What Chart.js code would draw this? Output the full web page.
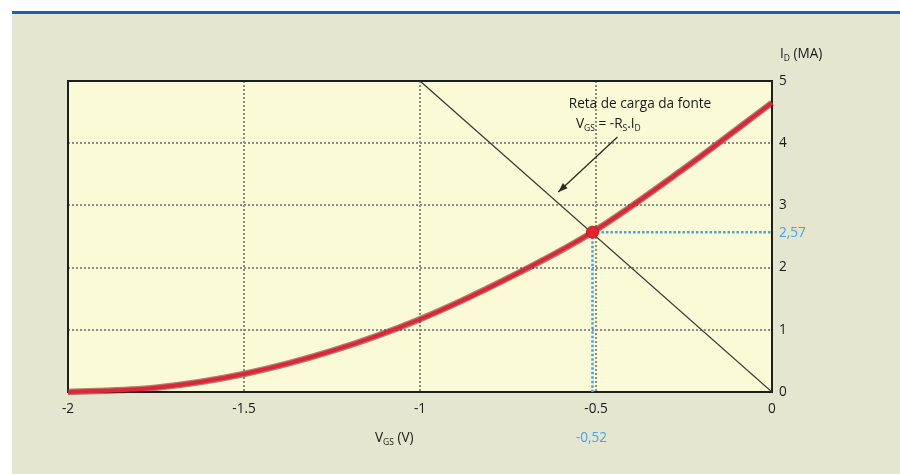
<!DOCTYPE html>
<html><head><meta charset="utf-8">
<script src="https://cdn.jsdelivr.net/npm/chart.js@4"></script>
<style>html,body{margin:0;padding:0;background:#fff}#wrap{width:900px;height:474px}</style>
</head><body><div id="wrap"><canvas id="c" width="900" height="474"></canvas></div>
<script>
// ---- data ----
const vgs = [-2, -1.75, -1.5, -1.25, -1, -0.75, -0.51, -0.25, 0];
const idCurve = [0, 0.07, 0.29, 0.66, 1.17, 1.83, 2.57, 3.59, 4.65];
const loadVgs = [-1, 0];
const loadId = [5, 0];
const qVgs = -0.51;
const qId = 2.57;
const xTicks = [-2, -1.5, -1, -0.5, 0];
const xTickLabels = ['-2', '-1.5', '-1', '-0.5', '0'];
const yTicks = [0, 1, 2, 3, 4, 5];
const yTickLabels = ['0', '1', '2', '3', '4', '5'];
const qXLabel = '-0,52';
const qYLabel = '2,57';

const FONT = '"Open Sans", "DejaVu Sans", sans-serif';
const MAIN = 13.6, SUB = 8.5;
const BLUE = '#4aa3dc';

function pts(xs, ys) { return xs.map((v, i) => ({x: v, y: ys[i]})); }

function drawRich(ctx, parts, x, y, align, color) {
  ctx.save();
  ctx.fillStyle = color || '#1a1a1a';
  ctx.textBaseline = 'alphabetic';
  ctx.textAlign = 'left';
  let w = 0;
  parts.forEach(p => { ctx.font = (p[1] ? SUB : MAIN) + 'px ' + FONT; w += ctx.measureText(p[0]).width; });
  let cx = align === 'center' ? x - w / 2 : (align === 'right' ? x - w : x);
  parts.forEach(p => {
    ctx.font = (p[1] ? SUB : MAIN) + 'px ' + FONT;
    ctx.fillText(p[0], cx, p[1] ? y + 3 : y);
    cx += ctx.measureText(p[0]).width;
  });
  ctx.restore();
}

const bgPlugin = {
  id: 'bg',
  beforeDraw(chart) {
    const {ctx, chartArea: a} = chart;
    ctx.save();
    ctx.fillStyle = '#ffffff';
    ctx.fillRect(0, 0, 900, 474);
    ctx.fillStyle = '#e4e6d0';
    ctx.fillRect(12, 14, 888, 460);
    ctx.fillStyle = '#1662ae';
    ctx.fillRect(12, 11, 888, 3);
    ctx.fillStyle = '#fafad6';
    ctx.fillRect(a.left, a.top, a.right - a.left, a.bottom - a.top);
    ctx.restore();
  },
  beforeDatasetsDraw(chart) {
    const {ctx, chartArea: a} = chart;
    ctx.save();
    ctx.strokeStyle = '#1e1e1e';
    ctx.lineWidth = 2;
    ctx.strokeRect(a.left, a.top, a.right - a.left, a.bottom - a.top);
    ctx.restore();
  },
  afterDatasetsDraw(chart) {
    const {ctx, chartArea: a, scales: {x, y}} = chart;
    // axis titles
    drawRich(ctx, [['I', 0], ['D', 1], [' (MA)', 0]], a.right + 8, a.top - 23, 'left');
    drawRich(ctx, [['V', 0], ['GS', 1], [' (V)', 0]], 375, a.bottom + 50, 'left');
    // Q point labels
    drawRich(ctx, [[qXLabel, 0]], x.getPixelForValue(qVgs) - 1, a.bottom + 50, 'center', BLUE);
    drawRich(ctx, [[qYLabel, 0]], a.right + 7, y.getPixelForValue(qId) + 5, 'left', BLUE);
    // annotation
    const ax = x.getPixelForValue(-0.375);
    const ay = y.getPixelForValue(4.57);
    drawRich(ctx, [['Reta de carga da fonte', 0]], ax, ay, 'center');
    drawRich(ctx, [['V', 0], ['GS', 1], [' = -R', 0], ['S', 1], ['.I', 0], ['D', 1]], ax - 64, ay + 20, 'left');
    // arrow
    const x1 = x.getPixelForValue(-0.439), y1 = y.getPixelForValue(4.10);
    const x2 = x.getPixelForValue(-0.607), y2 = y.getPixelForValue(3.215);
    ctx.save();
    ctx.strokeStyle = '#2a2a22';
    ctx.fillStyle = '#2a2a22';
    ctx.lineWidth = 1.3;
    ctx.beginPath(); ctx.moveTo(x1, y1); ctx.lineTo(x2, y2); ctx.stroke();
    const ang = Math.atan2(y2 - y1, x2 - x1);
    ctx.beginPath();
    ctx.moveTo(x2, y2);
    ctx.lineTo(x2 - 10 * Math.cos(ang - 0.35), y2 - 10 * Math.sin(ang - 0.35));
    ctx.lineTo(x2 - 10 * Math.cos(ang + 0.35), y2 - 10 * Math.sin(ang + 0.35));
    ctx.closePath(); ctx.fill();
    ctx.restore();
  }
};

const gridColor = edges => c => (c.tick && edges.includes(c.tick.value)) ? 'rgba(0,0,0,0)' : '#8e8e86';

new Chart(document.getElementById('c'), {
  type: 'line',
  data: {
    datasets: [
      {data: [{x: qVgs, y: qId}], showLine: false, pointRadius: 6, pointBackgroundColor: '#e3222e', pointBorderColor: '#c01a24', pointBorderWidth: 1, order: 0},
      {data: pts(vgs, idCurve), borderColor: '#d9283a', borderWidth: 4, tension: 0.4, cubicInterpolationMode: 'monotone', pointRadius: 0, order: 1, clip: false},
      {data: pts(vgs, idCurve), borderColor: 'rgba(130,20,25,0.55)', borderWidth: 6.5, tension: 0.4, cubicInterpolationMode: 'monotone', pointRadius: 0, order: 2, clip: false},
      {data: pts(loadVgs, loadId), borderColor: '#3c3c34', borderWidth: 1.3, pointRadius: 0, order: 3},
      {data: [{x: qVgs, y: qId}, {x: 0, y: qId}], borderColor: BLUE, borderWidth: 2.5, borderDash: [2.5, 2], pointRadius: 0, order: 4},
      {data: [{x: qVgs, y: qId}, {x: qVgs, y: 0}], borderColor: BLUE, borderWidth: 2.5, borderDash: [2.5, 2], pointRadius: 0, order: 4}
    ]
  },
  options: {
    responsive: false,
    animation: false,
    events: [],
    layout: {padding: {left: 68, top: 81, right: 0, bottom: 0}},
    plugins: {legend: {display: false}, tooltip: {enabled: false}},
    scales: {
      x: {
        type: 'linear', position: 'bottom', min: -2, max: 0,
        afterBuildTicks: s => { s.ticks = xTicks.map(v => ({value: v})); },
        afterFit: s => { s.height = 82; },
        ticks: {
          autoSkip: false, maxRotation: 0, padding: 9, color: '#1a1a1a',
          font: {family: FONT, size: MAIN},
          callback: v => xTickLabels[xTicks.indexOf(v)]
        },
        grid: {color: gridColor([-2, 0]), lineWidth: 2, drawTicks: false},
        border: {display: false, dash: [2, 2]}
      },
      y: {
        type: 'linear', position: 'right', min: 0, max: 5,
        afterBuildTicks: s => { s.ticks = yTicks.map(v => ({value: v})); },
        afterFit: s => { s.width = 128; },
        ticks: {
          padding: 7, color: '#1a1a1a',
          font: {family: FONT, size: MAIN},
          callback: v => yTickLabels[yTicks.indexOf(v)]
        },
        grid: {color: gridColor([0, 5]), lineWidth: 2, drawTicks: false},
        border: {display: false, dash: [2, 2]}
      }
    }
  },
  plugins: [bgPlugin]
});
</script>
</body></html>
